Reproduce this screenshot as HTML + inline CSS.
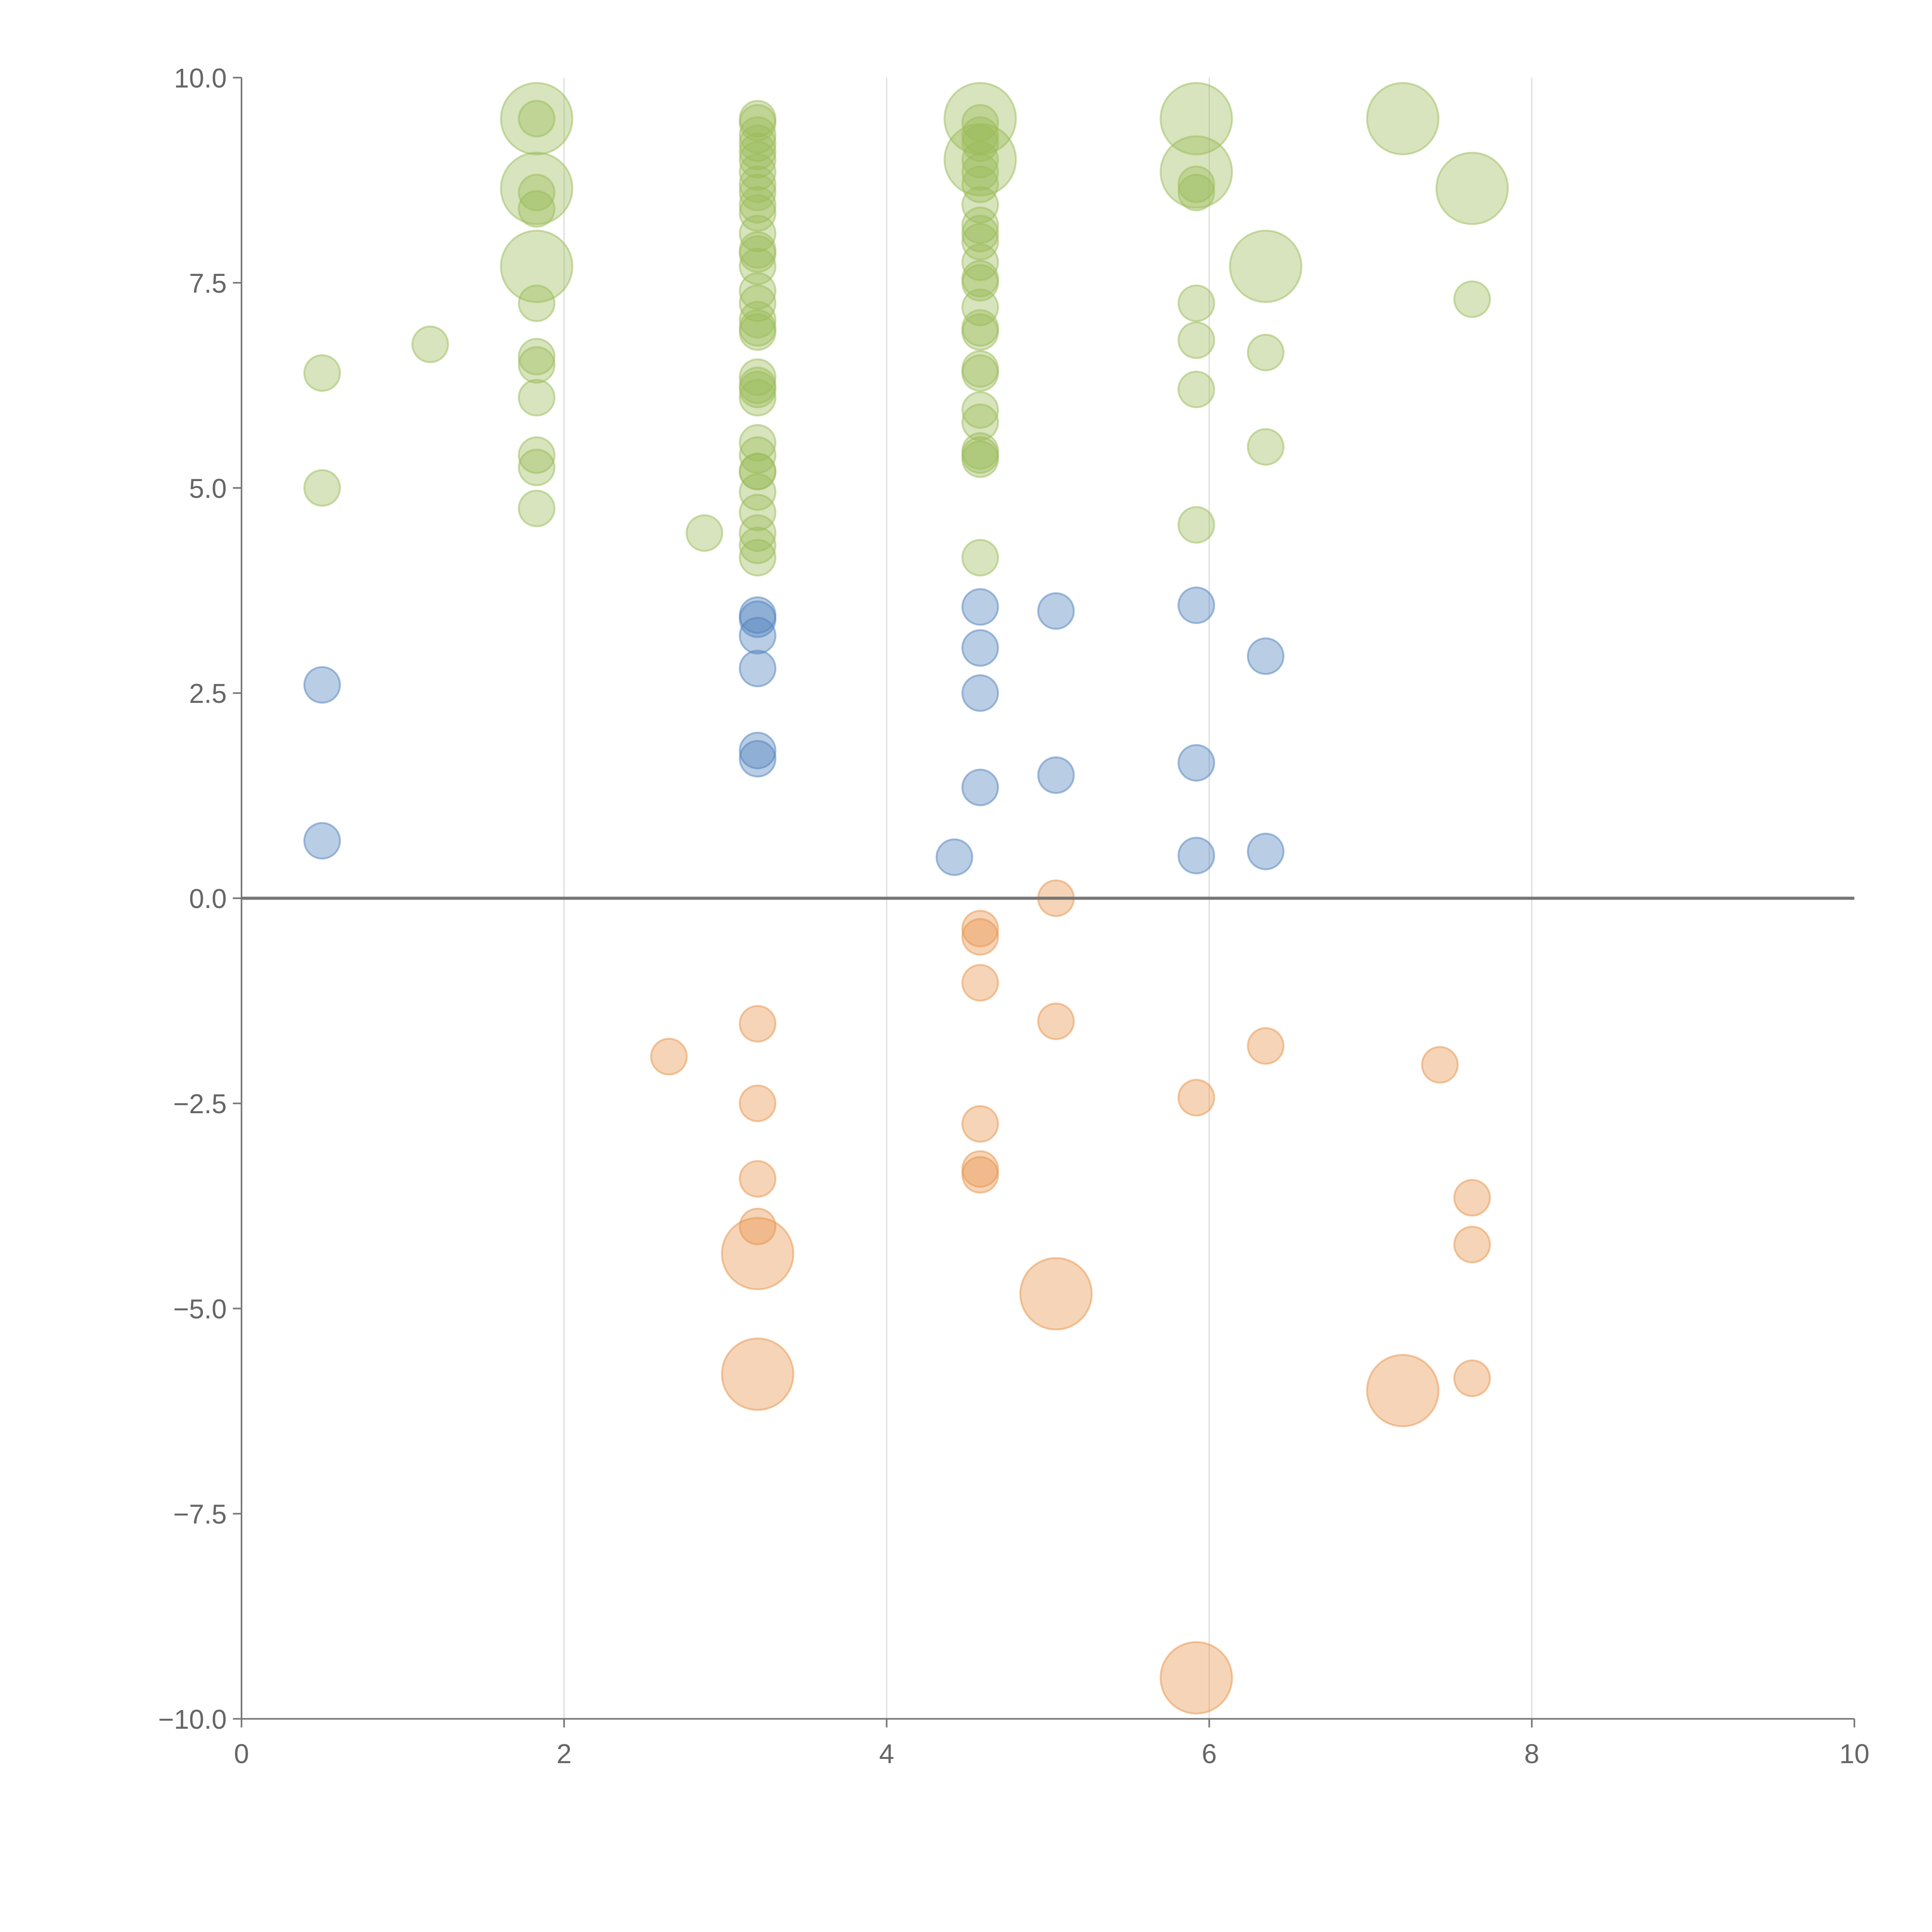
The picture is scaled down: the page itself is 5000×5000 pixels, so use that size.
<!DOCTYPE html>
<html><head><meta charset="utf-8">
<style>
html,body{margin:0;padding:0;background:#fff;}
svg{display:block;}
text{font-family:"Liberation Sans",sans-serif;fill:#666;}
</style></head>
<body>
<svg id="chart" width="5000" height="5000" viewBox="0 0 1568 1568" xmlns="http://www.w3.org/2000/svg"></svg>
<script>
const xTicks=[0,2,4,6,8,10];
const yTicks=[10,7.5,5,2.5,0,-2.5,-5,-7.5,-10];
const yTickLabels=["10.0","7.5","5.0","2.5","0.0","\u22122.5","\u22125.0","\u22127.5","\u221210.0"];
const greenX=[0.5,0.5,1.17,1.83,1.83,1.83,1.83,1.83,1.83,1.83,1.83,1.83,1.83,1.83,1.83,1.83,2.87,
3.2,3.2,3.2,3.2,3.2,3.2,3.2,3.2,3.2,3.2,3.2,3.2,3.2,3.2,3.2,3.2,3.2,3.2,3.2,3.2,3.2,3.2,3.2,3.2,3.2,3.2,3.2,3.2,3.2,3.2,3.2,3.2,3.2,
4.58,4.58,4.58,4.58,4.58,4.58,4.58,4.58,4.58,4.58,4.58,4.58,4.58,4.58,4.58,4.58,4.58,4.58,4.58,4.58,4.58,4.58,4.58,4.58,4.58,4.58,
5.92,5.92,5.92,5.92,5.92,5.92,5.92,5.92,6.35,6.35,6.35,7.2,7.63,7.63];
const greenY=[6.4,5.0,6.75,9.5,9.5,8.65,8.6,8.4,7.7,7.25,6.6,6.5,6.1,5.4,5.25,4.75,4.45,
9.5,9.45,9.3,9.2,9.1,9.0,8.85,8.7,8.6,8.45,8.35,8.1,7.9,7.85,7.7,7.4,7.25,7.05,6.95,6.9,6.35,6.25,6.2,6.1,5.55,5.4,5.2,5.2,4.95,4.7,4.45,4.3,4.15,
9.5,9.0,9.45,9.3,9.2,9.0,8.85,8.7,8.45,8.2,8.1,8.0,7.75,7.55,7.5,7.2,6.95,6.9,6.45,6.4,5.95,5.8,5.45,5.4,5.35,4.15,
9.5,8.85,8.7,8.6,7.25,6.8,6.2,4.55,7.7,6.65,5.5,9.5,8.65,7.3];
const greenSize=[1,1,1,2,1,2,1,1,2,1,1,1,1,1,1,1,1,
1,1,1,1,1,1,1,1,1,1,1,1,1,1,1,1,1,1,1,1,1,1,1,1,1,1,1,1,1,1,1,1,1,
2,2,1,1,1,1,1,1,1,1,1,1,1,1,1,1,1,1,1,1,1,1,1,1,1,1,
2,2,1,1,1,1,1,1,2,1,1,2,2,1];
const blueX=[0.5,0.5,3.2,3.2,3.2,3.2,3.2,3.2,4.58,4.58,4.58,4.58,4.42,5.05,5.05,5.92,5.92,5.92,6.35,6.35];
const blueY=[2.6,0.7,3.45,3.4,3.2,2.8,1.8,1.7,3.55,3.05,2.5,1.35,0.5,3.5,1.5,3.57,1.65,0.52,2.95,0.57];
const blueSize=[1,1,1,1,1,1,1,1,1,1,1,1,1,1,1,1,1,1,1,1];
const orangeX=[2.65,3.2,3.2,3.2,3.2,3.2,3.2,4.58,4.58,4.58,4.58,4.58,4.58,5.05,5.05,5.05,5.92,5.92,6.35,7.43,7.63,7.63,7.63,7.2];
const orangeY=[-1.93,-1.53,-2.5,-3.42,-4.0,-4.33,-5.8,-0.37,-0.47,-1.03,-2.75,-3.3,-3.37,0,-1.5,-4.82,-2.43,-9.5,-1.8,-2.03,-3.65,-4.22,-5.85,-6.0];
const orangeSize=[1,1,1,1,1,2,2,1,1,1,1,1,1,1,1,2,1,2,1,1,1,1,1,2];

const NS="http://www.w3.org/2000/svg";
const svg=document.getElementById('chart');
const X0=196,X1=1505,Y0=63,Y1=1395;
function sx(v){return X0+(v-0)/(10-0)*(X1-X0);}
function sy(v){return Y0+(10-v)/20*(Y1-Y0);}
function mk(t,a){const e=document.createElementNS(NS,t);for(const k in a)e.setAttribute(k,a[k]);svg.appendChild(e);return e;}

[2,4,6,8].forEach(v=>{
  const l=mk('line',{x1:sx(v),x2:sx(v),y1:Y0,y2:Y1,stroke:'#ddd','stroke-width':1});
  
  
});
const ya=mk('line',{x1:X0,x2:X0,y1:Y0,y2:Y1,stroke:'#777','stroke-width':1.3});


const xa=mk('line',{x1:X0,x2:X1,y1:Y1,y2:Y1,stroke:'#777','stroke-width':1.3});


xTicks.forEach(v=>{
  mk('line',{x1:sx(v),x2:sx(v),y1:Y1,y2:Y1+7,stroke:'#777','stroke-width':1.3});
  const t=mk('text',{x:sx(v),y:Y1+36,'font-size':22,'text-anchor':'middle'});
  t.textContent=String(v);
  
  
});
yTicks.forEach((v,i)=>{
  mk('line',{x1:X0-7,x2:X0,y1:sy(v),y2:sy(v),stroke:'#777','stroke-width':1.3});
  const t=mk('text',{x:X0-12,y:sy(v)+8,'font-size':22,'text-anchor':'end'});
  t.textContent=yTickLabels[i];
  
  
});
function series(xs,ys,ss,fill,stroke,name){
  xs.forEach((x,i)=>{
    const c=mk('circle',{cx:sx(x),cy:sy(ys[i]),r:ss[i]*14.5,fill:fill,'fill-opacity':0.4,stroke:stroke,'stroke-opacity':0.5,'stroke-width':1.5});
    
    
  });
}
series(greenX,greenY,greenSize,'#9bbb59','#9bbb59','green-bubble');
series(blueX,blueY,blueSize,'#4f81bd','#4f81bd','blue-bubble');
series(orangeX,orangeY,orangeSize,'#e8944a','#e8944a','orange-bubble');
const z=mk('line',{x1:X0,x2:X1,y1:sy(0),y2:sy(0),stroke:'#777','stroke-width':2.5});


</script>
</body></html>
